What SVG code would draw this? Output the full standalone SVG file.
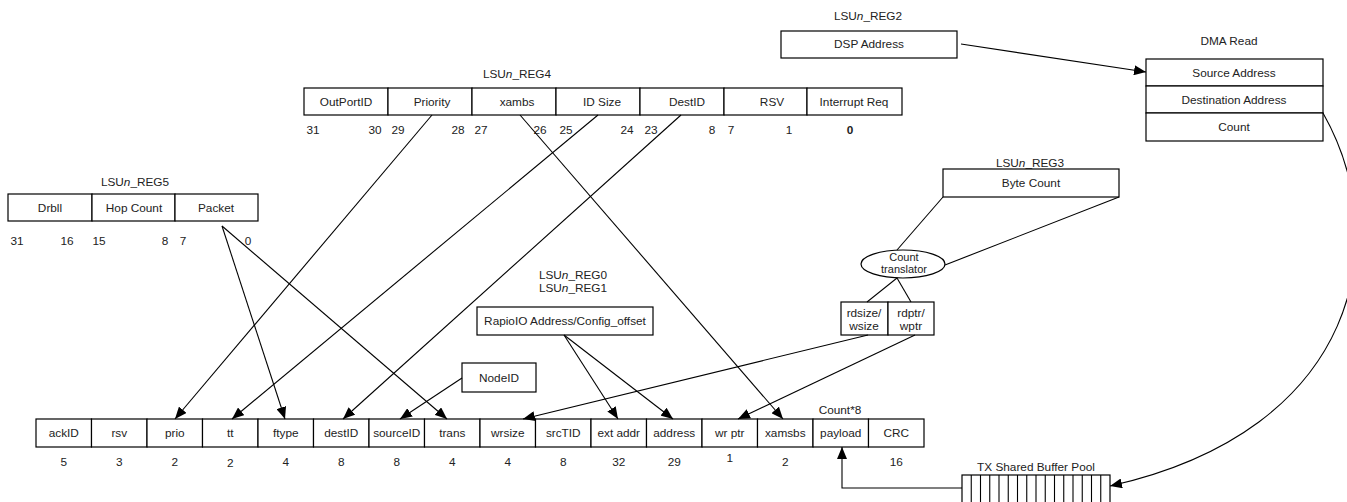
<svg xmlns="http://www.w3.org/2000/svg" width="1347" height="502" viewBox="0 0 1347 502">
<style>
text{font-family:"Liberation Sans",Arial,sans-serif;font-size:11.8px;fill:#222;text-anchor:middle}
.box{fill:#fff;stroke:#000;stroke-width:1.2}
.ln{fill:none;stroke:#000;stroke-width:1.1}
.ar{marker-end:url(#ah)}
.b{font-weight:bold}
.sm{font-size:11px}
</style>
<defs>
<marker id="ah" markerUnits="userSpaceOnUse" markerWidth="12" markerHeight="10" refX="12" refY="5" orient="auto">
<path d="M0,0 L12,5 L0,10 z" fill="#000"/>
</marker>
</defs>
<rect width="1347" height="502" fill="#fff"/>

<g id="reg2">
<text x="868" y="20">LSU<tspan font-style="italic">n</tspan>_REG2</text>
<rect class="box" x="781" y="31" width="176" height="27"/>
<text x="869" y="48">DSP Address</text>
</g>

<g id="dma">
<text x="1229" y="45">DMA Read</text>
<rect class="box" x="1146" y="59" width="177" height="27"/>
<rect class="box" x="1146" y="86" width="177" height="27"/>
<rect class="box" x="1146" y="113" width="177" height="28"/>
<text x="1234" y="77">Source Address</text>
<text x="1234" y="104">Destination Address</text>
<text x="1234" y="131">Count</text>
</g>

<g id="reg4">
<text x="517" y="78">LSU<tspan font-style="italic">n</tspan>_REG4</text>
<rect class="box" x="304" y="88" width="84" height="27"/>
<rect class="box" x="388" y="88" width="84" height="27"/>
<rect class="box" x="472" y="88" width="84" height="27"/>
<rect class="box" x="556" y="88" width="84" height="27"/>
<rect class="box" x="640" y="88" width="84" height="27"/>
<rect class="box" x="724" y="88" width="83" height="27"/>
<rect class="box" x="807" y="88" width="95" height="27"/>
<text x="346" y="106">OutPortID</text>
<text x="432" y="106">Priority</text>
<text x="517" y="106">xambs</text>
<text x="602" y="106">ID Size</text>
<text x="687" y="106">DestID</text>
<text x="772" y="106">RSV</text>
<text x="854" y="106">Interrupt Req</text>
<text x="313" y="134">31</text>
<text x="375" y="134">30</text>
<text x="398" y="134">29</text>
<text x="458" y="134">28</text>
<text x="481" y="134">27</text>
<text x="540" y="134">26</text>
<text x="566" y="134">25</text>
<text x="627" y="134">24</text>
<text x="651" y="134">23</text>
<text x="712" y="134">8</text>
<text x="731" y="134">7</text>
<text x="789" y="134">1</text>
<text class="b" x="850" y="134">0</text>
</g>

<g id="reg5">
<text x="135" y="186">LSU<tspan font-style="italic">n</tspan>_REG5</text>
<rect class="box" x="8" y="194" width="84" height="27"/>
<rect class="box" x="92" y="194" width="83" height="27"/>
<rect class="box" x="175" y="194" width="83" height="27"/>
<text x="50" y="212">Drbll</text>
<text x="134" y="212">Hop Count</text>
<text x="216" y="212">Packet</text>
<text x="17" y="245">31</text>
<text x="67" y="245">16</text>
<text x="99" y="245">15</text>
<text x="165" y="245">8</text>
<text x="183" y="245">7</text>
<text x="248" y="245">0</text>
</g>

<g id="reg3">
<text x="1030" y="167">LSU<tspan font-style="italic">n</tspan>_REG3</text>
<rect class="box" x="943" y="169" width="176" height="28"/>
<text x="1031" y="187">Byte Count</text>
</g>

<g id="translator">
<ellipse class="box" cx="903" cy="264" rx="42" ry="14"/>
<text class="sm" x="904" y="261">Count</text>
<text class="sm" x="904" y="273">translator</text>
</g>

<g id="rdsize">
<rect class="box" x="841" y="302" width="47" height="33"/>
<rect class="box" x="888" y="302" width="46" height="33"/>
<text x="864" y="317">rdsize/</text>
<text x="864" y="330">wsize</text>
<text x="911" y="317">rdptr/</text>
<text x="911" y="330">wptr</text>
</g>

<g id="reg0">
<text x="573" y="279">LSU<tspan font-style="italic">n</tspan>_REG0</text>
<text x="573" y="292">LSU<tspan font-style="italic">n</tspan>_REG1</text>
<rect class="box" x="477" y="307" width="176" height="28"/>
<text x="565" y="325">RapioIO Address/Config_offset</text>
</g>

<g id="nodeid">
<rect class="box" x="462" y="363" width="74" height="29"/>
<text x="499" y="382">NodeID</text>
</g>

<g id="packet">
<rect class="box" x="36" y="419" width="55.5" height="28"/>
<rect class="box" x="91.5" y="419" width="55.5" height="28"/>
<rect class="box" x="147" y="419" width="55.5" height="28"/>
<rect class="box" x="202.5" y="419" width="55.5" height="28"/>
<rect class="box" x="258" y="419" width="55.5" height="28"/>
<rect class="box" x="313.5" y="419" width="55.5" height="28"/>
<rect class="box" x="369" y="419" width="55.5" height="28"/>
<rect class="box" x="424.5" y="419" width="55.5" height="28"/>
<rect class="box" x="480" y="419" width="55.5" height="28"/>
<rect class="box" x="535.5" y="419" width="55.5" height="28"/>
<rect class="box" x="591" y="419" width="55.5" height="28"/>
<rect class="box" x="646.5" y="419" width="55.5" height="28"/>
<rect class="box" x="702" y="419" width="55.5" height="28"/>
<rect class="box" x="757.5" y="419" width="55.5" height="28"/>
<rect class="box" x="813" y="419" width="55.5" height="28"/>
<rect class="box" x="868.5" y="419" width="55.5" height="28"/>
<text x="63.75" y="437">ackID</text>
<text x="119.25" y="437">rsv</text>
<text x="174.75" y="437">prio</text>
<text x="230.25" y="437">tt</text>
<text x="285.75" y="437">ftype</text>
<text x="341.25" y="437">destID</text>
<text x="396.75" y="437">sourceID</text>
<text x="452.25" y="437">trans</text>
<text x="507.75" y="437">wrsize</text>
<text x="563.25" y="437">srcTID</text>
<text x="618.75" y="437">ext addr</text>
<text x="674.25" y="437">address</text>
<text x="729.75" y="437">wr ptr</text>
<text x="785.25" y="437">xamsbs</text>
<text x="840.75" y="437">payload</text>
<text x="896.25" y="437">CRC</text>
<text x="840" y="414">Count*8</text>
<text x="63.75" y="466">5</text>
<text x="119.25" y="466">3</text>
<text x="174.75" y="466">2</text>
<text x="230.25" y="467">2</text>
<text x="285.75" y="466">4</text>
<text x="341.25" y="466">8</text>
<text x="396.75" y="466">8</text>
<text x="452.25" y="466">4</text>
<text x="507.75" y="466">4</text>
<text x="563.25" y="466">8</text>
<text x="618.75" y="466">32</text>
<text x="674.25" y="466">29</text>
<text x="729.75" y="462">1</text>
<text x="785.25" y="466">2</text>
<text x="896.25" y="466">16</text>
</g>

<g id="txpool">
<text x="1036" y="471">TX Shared Buffer Pool</text>
<rect class="box" x="962" y="475" width="148" height="40"/>
<path class="ln" d="M971.25,475V502M980.5,475V502M989.75,475V502M999,475V502M1008.25,475V502M1017.5,475V502M1026.75,475V502M1036,475V502M1045.25,475V502M1054.5,475V502M1063.75,475V502M1073,475V502M1082.25,475V502M1091.5,475V502M1100.75,475V502"/>
</g>

<g id="connectors">
<path class="ln ar" d="M961,44 L1146,72"/>
<path class="ln ar" d="M432,115 L175,419"/>
<path class="ln ar" d="M520,115 L783,419"/>
<path class="ln ar" d="M598,115 L232,419"/>
<path class="ln ar" d="M681,115 L343,419"/>
<path class="ln ar" d="M222,226 L285,419"/>
<path class="ln ar" d="M222,226 L447,419"/>
<path class="ln ar" d="M462,378 L400,419"/>
<path class="ln ar" d="M564,335 L618,419"/>
<path class="ln ar" d="M564,335 L673,419"/>
<path class="ln ar" d="M868,335 L523,419"/>
<path class="ln ar" d="M915,335 L738,419"/>
<path class="ln ar" d="M962,488 L842,488 L842,447"/>
<path class="ln ar" d="M1323,113 C1395,240 1360,430 1110,486"/>
<path class="ln" d="M943,197 L897,250"/>
<path class="ln" d="M1119,197 L945,265"/>
<path class="ln" d="M897,278 L867,302"/>
<path class="ln" d="M897,278 L911,302"/>
</g>
</svg>
